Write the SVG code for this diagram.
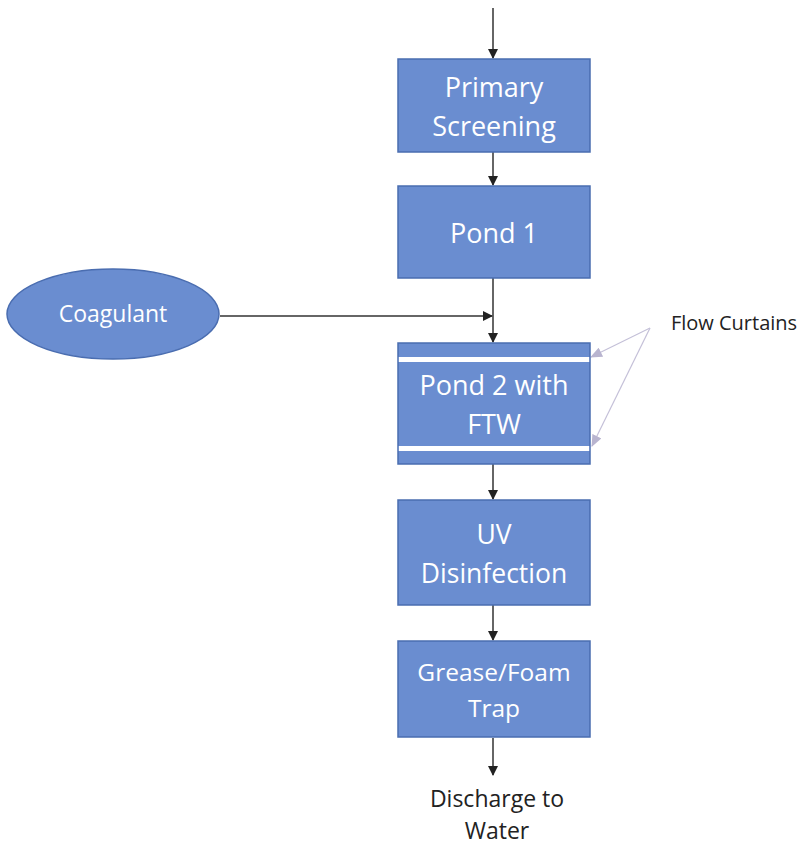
<svg xmlns="http://www.w3.org/2000/svg" width="803" height="846" viewBox="0 0 803 846">
<style>
.box{fill:#6a8dd0;stroke:#4a6db0;stroke-width:1.5}
.t{font-family:"Open Sans","Liberation Sans",sans-serif;fill:#ffffff;text-anchor:middle}
.k{font-family:"Open Sans","Liberation Sans",sans-serif;fill:#222;text-anchor:middle}
.c{stroke:#333;stroke-width:1.5;fill:none}
.g{stroke:#c4c0d8;stroke-width:1.2;fill:none}
</style>
<defs>
<marker id="ah" markerWidth="10" markerHeight="10" refX="9" refY="5" orient="auto" markerUnits="userSpaceOnUse"><path d="M0,0 L10,5 L0,10 Z" fill="#222"/></marker>
<marker id="ag" markerWidth="12" markerHeight="10" refX="11" refY="5" orient="auto" markerUnits="userSpaceOnUse"><path d="M0,0 L12,5 L0,10 Z" fill="#b8b4cf"/></marker>
</defs>
<rect width="803" height="846" fill="#ffffff"/>
<g id="connectors">
<line class="c" x1="493" y1="8" x2="493" y2="58" marker-end="url(#ah)"/>
<line class="c" x1="493" y1="152" x2="493" y2="185" marker-end="url(#ah)"/>
<line class="c" x1="493" y1="278" x2="493" y2="342" marker-end="url(#ah)"/>
<line class="c" x1="220" y1="316" x2="492" y2="316" marker-end="url(#ah)"/>
<line class="c" x1="493" y1="464" x2="493" y2="499" marker-end="url(#ah)"/>
<line class="c" x1="493" y1="605" x2="493" y2="640" marker-end="url(#ah)"/>
<line class="c" x1="493" y1="738" x2="493" y2="775" marker-end="url(#ah)"/>
<line class="g" x1="650" y1="328" x2="591" y2="357" marker-end="url(#ag)"/>
<line class="g" x1="650" y1="328" x2="592" y2="446" marker-end="url(#ag)"/>
</g>
<g id="primary-screening">
<rect class="box" x="398" y="59" width="192" height="93"/>
<text class="t" x="494" y="97" font-size="27">Primary</text>
<text class="t" x="494" y="136" font-size="27">Screening</text>
</g>
<g id="pond-1">
<rect class="box" x="398" y="186" width="192" height="92"/>
<text class="t" x="494" y="243" font-size="27">Pond 1</text>
</g>
<g id="coagulant">
<ellipse cx="113" cy="314" rx="106" ry="45" class="box"/>
<text class="t" x="113" y="322" font-size="23">Coagulant</text>
</g>
<g id="pond-2">
<rect class="box" x="398" y="343" width="192" height="121"/>
<rect x="398.8" y="357" width="190.4" height="5" fill="#ffffff"/>
<rect x="398.8" y="446" width="190.4" height="5" fill="#ffffff"/>
<text class="t" x="494" y="395" font-size="27">Pond 2 with</text>
<text class="t" x="494" y="434" font-size="27">FTW</text>
</g>
<g id="flow-curtains">
<text class="k" x="734" y="330" font-size="20">Flow Curtains</text>
</g>
<g id="uv-disinfection">
<rect class="box" x="398" y="500" width="192" height="105"/>
<text class="t" x="494" y="544" font-size="26.5">UV</text>
<text class="t" x="494" y="583" font-size="26.5">Disinfection</text>
</g>
<g id="grease-trap">
<rect class="box" x="398" y="641" width="192" height="96"/>
<text class="t" x="494" y="681" font-size="24.5">Grease/Foam</text>
<text class="t" x="494" y="717" font-size="24.5">Trap</text>
</g>
<g id="discharge">
<text class="k" x="497" y="807" font-size="23">Discharge to</text>
<text class="k" x="497" y="839" font-size="23">Water</text>
</g>
</svg>
